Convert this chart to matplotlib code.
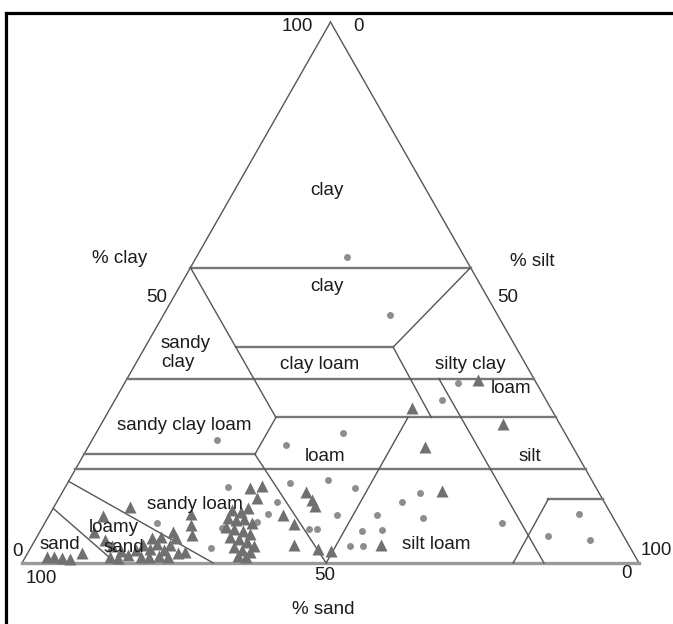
import matplotlib
matplotlib.use("Agg")
import matplotlib.pyplot as plt
from matplotlib.lines import Line2D
import numpy as np

plt.rcParams['font.family'] = ['Liberation Sans', 'DejaVu Sans']

# samples, as % sand and % clay (silt = 100 - sand - clay)
circle_sand = [19.0, 17.5, 12.7, 16.8, 36.0, 46.3, 57.0, 42.7, 39.1, 32.8,
               29.0, 38.0, 30.9, 18.5, 44.5, 42.0, 38.6, 45.3, 43.2, 50.4,
               49.1, 5.1, 12.2, 5.8, 59.6, 49.2, 53.0, 55.5, 58.1, 64.4,
               68.0, 74.4]
circle_clay = [56.6, 45.8, 33.3, 30.1, 24.0, 21.8, 22.7, 15.3, 13.9, 11.3,
               12.9, 8.9, 8.3, 7.4, 8.9, 5.9, 6.1, 3.1, 3.1, 6.3,
               6.3, 9.1, 5.0, 4.3, 14.0, 14.8, 11.3, 9.1, 7.6, 6.5,
               2.8, 7.4]

tri_sand = [9.2, 22.5, 9.2, 24.0, 25.3, 40.1, 56.1, 54.0, 55.9, 47.5,
            47.2, 47.2, 53.3, 52.3, 54.2, 50.7, 48.8, 77.3, 68.1, 69.1,
            69.8, 72.7, 72.6, 61.1, 59.8, 58.3, 62.5, 61.3, 59.9, 59.0,
            63.6, 62.5, 61.3, 60.3, 63.9, 62.6, 61.6, 60.9, 64.1, 63.1,
            62.0, 64.4, 63.2, 82.6, 85.5, 84.4, 83.8, 82.9, 82.1, 80.3,
            78.8, 78.0, 76.4, 75.8, 74.4, 72.7, 80.2, 78.8, 77.2, 75.8,
            84.0, 85.2, 75.1, 76.6, 73.8, 95.4, 94.2, 93.1, 91.9, 89.4]
tri_clay = [33.8, 28.7, 25.7, 21.4, 13.3, 3.3, 13.9, 14.2, 12.0, 13.1,
            11.6, 10.5, 8.9, 7.2, 3.3, 2.6, 2.2, 10.4, 9.1, 7.0,
            5.2, 5.7, 2.0, 9.8, 9.4, 10.2, 8.3, 7.9, 8.1, 7.4,
            6.7, 6.3, 5.9, 5.4, 4.8, 4.4, 3.9, 3.1, 3.0, 2.4,
            2.0, 1.3, 1.1, 8.7, 5.7, 4.3, 3.1, 2.2, 1.5, 2.4,
            3.3, 2.6, 3.5, 2.4, 3.3, 4.6, 1.1, 1.1, 1.3, 1.1,
            0.9, 1.1, 4.8, 4.6, 1.8, 1.1, 1.1, 0.9, 0.7, 1.8]

# class boundaries as (sand, clay) vertices
horiz_lines = [
    [(45.4, 54.6), (0, 54.6)],
    [(45.4, 39.9), (19.9, 39.9)],
    [(65.9, 34.1), (0, 34.1)],
    [(45.4, 26.9), (0, 26.9)],
    [(79.9, 20.1), (52.2, 20.1)],
    [(82.7, 17.3), (0, 17.3)],
    [(8.8, 11.8), (0, 11.8)],
]
slant_lines = [
    [(45.4, 54.6), (45.4, 26.9), (52.2, 20.1), (50.7, 0)],
    [(0, 54.6), (19.9, 39.9), (20.2, 26.9)],
    [(24.0, 26.9), (50.7, 0)],
    [(15.4, 34.1), (15.4, 0)],
    [(8.8, 11.8), (20.4, 0)],
    [(89.9, 10.1), (84.8, 0)],
    [(84.9, 15.1), (69.0, 0)],
]

class_labels = [
    ("clay", 49.4, 68.9), ("clay", 49.4, 51.2), ("clay loam", 48.3, 36.7),
    ("silty clay", 72.6, 36.7), ("loam", 79.3, 32.3),
    ("sandy clay loam", 26.3, 25.4), ("loam", 49.1, 19.6), ("silt", 82.3, 19.6),
    ("sandy loam", 28.0, 10.9), ("loamy", 14.8, 6.6), ("sand", 16.5, 2.8),
    ("sand", 6.2, 3.5), ("silt loam", 67.1, 3.5),
]
axis_labels = [
    ("100", 44.6, 99.1), ("0", 54.5, 99.1), ("% clay", 15.8, 56.2),
    ("50", 21.8, 49.1), ("% silt", 82.7, 55.8), ("50", 78.7, 49.1),
    ("0", -0.8, 2.2), ("100", 102.8, 2.4), ("100", 3.2, -2.8),
    ("50", 49.1, -2.4), ("0", 98.0, -2.0), ("% sand", 48.8, -8.6),
]


def to_xy(sand, clay):
    sand = np.asarray(sand, float)
    clay = np.asarray(clay, float)
    return 100 - sand - clay / 2, clay


fig = plt.figure(figsize=(6.73, 6.24), dpi=100)
ax = fig.add_axes([0, 0, 1, 1])
ax.set_xlim(-22 / 6.17, 651 / 6.17)
ax.set_ylim(-61 / 5.41, 563 / 5.41)
ax.axis('off')

# outer triangle
ex, ey = to_xy([100, 0, 0], [0, 0, 100])
ax.plot([ex[2], ex[0]], [ey[2], ey[0]], color='#555555', lw=1.0)
ax.plot([ex[2], ex[1]], [ey[2], ey[1]], color='#555555', lw=1.0)
ax.plot([ex[0], ex[1]], [ey[0], ey[1]], color='#9a9a9a', lw=2.4)

for seg in horiz_lines:
    x, y = to_xy(*zip(*seg))
    ax.plot(x, y, color='#777777', lw=1.7)
for seg in slant_lines:
    x, y = to_xy(*zip(*seg))
    ax.plot(x, y, color='#555555', lw=1.0)

x, y = to_xy(circle_sand, circle_clay)
ax.plot(x, y, 'o', ms=5, color='#8e8e8e', mec='none')
x, y = to_xy(tri_sand, tri_clay)
ax.plot(x, y, '^', ms=8.3, color='#707070', mec='none')

txt_col = '#1c1c1c'
for txt, tx, ty in class_labels:
    ax.text(tx, ty, txt, ha='center', va='center', fontsize=13.5, color=txt_col)
ax.text(22.5, 38.8, "sandy\nclay", ha='left', va='center', fontsize=13.5,
        color=txt_col, linespacing=1.2)
for txt, tx, ty in axis_labels:
    ax.text(tx, ty, txt, ha='center', va='center', fontsize=13.5, color=txt_col)

# black frame on top and left
fig.add_artist(Line2D([6 / 673, 1], [1 - 12.5 / 624, 1 - 12.5 / 624],
                      transform=fig.transFigure, color='black', lw=2.3))
fig.add_artist(Line2D([6 / 673, 6 / 673], [0, 1 - 12.5 / 624],
                      transform=fig.transFigure, color='black', lw=2.3))

fig.savefig('out.png', dpi=100)
